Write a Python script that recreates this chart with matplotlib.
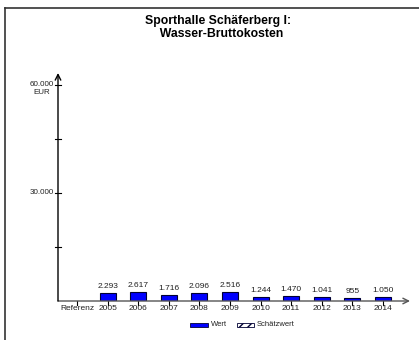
import matplotlib
matplotlib.use("Agg")
import matplotlib.pyplot as plt
from matplotlib.patches import Rectangle
from matplotlib.lines import Line2D

# --- data ---
categories = ['Referenz', '2005', '2006', '2007', '2008', '2009',
              '2010', '2011', '2012', '2013', '2014']
values = [None, 2293, 2617, 1716, 2096, 2516, 1244, 1470, 1041, 955, 1050]
value_labels = ['', '2.293', '2.617', '1.716', '2.096', '2.516',
                '1.244', '1.470', '1.041', '955', '1.050']
y_ticks = [0, 15000, 30000, 45000, 60000]
y_tick_labels = {30000: '30.000', 60000: '60.000'}
title = 'Sporthalle Schäferberg I:\n  Wasser-Bruttokosten'

W, H = 419, 340
fig = plt.figure(figsize=(W / 100, H / 100), dpi=100)
plt.rcParams['font.family'] = ['Liberation Sans', 'DejaVu Sans']

# outer frame (only top and left edges visible)
fig.add_artist(Line2D([5 / W, 5 / W], [0, 1 - 8 / H], color='#333333', lw=1.2))
fig.add_artist(Line2D([5 / W, 1], [1 - 8 / H, 1 - 8 / H], color='#333333', lw=1.2))

# axes geometry in pixels
x0, x1 = 58, 410
y0, ytop = 301, 73
ax = fig.add_axes([x0 / W, (H - y0) / H, (x1 - x0) / W, (y0 - ytop) / H])
px_per_unit = 30.6
ax.set_xlim((x0 - 77) / px_per_unit, (x1 - 77) / px_per_unit)
ax.set_ylim(0, (y0 - ytop) / 108 * 30000)
ax.patch.set_alpha(0)
for s in ax.spines.values():
    s.set_visible(False)
ax.set_xticks([])
ax.set_yticks([])

# axis arrows
ax.annotate('', xy=(1.0, 0), xytext=(0, 0), xycoords='axes fraction',
            arrowprops=dict(arrowstyle='->', color='#555555', lw=1.0,
                            mutation_scale=10, shrinkA=0, shrinkB=0))
ax.annotate('', xy=(0, 1.0), xytext=(0, 0), xycoords='axes fraction',
            arrowprops=dict(arrowstyle='->', color='black', lw=1.0,
                            mutation_scale=10, shrinkA=0, shrinkB=0))

# y ticks crossing the axis
xl = ax.get_xlim()
dx = 2.5 / px_per_unit
for t in y_ticks[1:]:
    ax.plot([xl[0] - dx, xl[0] + dx], [t, t], color='black', lw=0.8, clip_on=False)
    if t in y_tick_labels:
        ax.text(xl[0] - 4 / px_per_unit, t, y_tick_labels[t], ha='right', va='center',
                fontsize=5.8, color='#222222')
ax.text(xl[0] - 16 / px_per_unit, 60000 - 8 * 30000 / 108, 'EUR', ha='center', va='center',
        fontsize=5.8, color='#222222')

# bars and labels
bar_x = [i for i, v in enumerate(values) if v is not None]
bar_v = [v for v in values if v is not None]
ax.bar(bar_x, bar_v, width=0.52, color='#0000ff', edgecolor='#000033', lw=0.8)
for i, v in enumerate(values):
    if v is not None:
        ax.text(i, v + 3 * 30000 / 108, value_labels[i], ha='center', va='bottom',
                fontsize=6, color='#222222')

# x ticks and labels
tick_len = 4 * 30000 / 108
for i, c in enumerate(categories):
    ax.plot([i, i], [0, -tick_len], color='black', lw=0.8, clip_on=False)
    ax.text(i, -8 * 30000 / 108, c, ha='center', va='center', fontsize=6, color='#222222')

# title
fig.text(218 / W, 1 - 27.5 / H, title, ha='center', va='center', fontsize=8.8,
         fontweight='bold', linespacing=1.1)

# legend
fig.add_artist(Rectangle((190 / W, 1 - 327 / H), 18 / W, 4 / H, facecolor='#0000ff',
                         edgecolor='#000033', lw=0.6))
fig.text(211 / W, 1 - 325 / H, 'Wert', ha='left', va='center', fontsize=5.5, color='#222222')
fig.add_artist(Rectangle((237 / W, 1 - 327 / H), 17 / W, 4 / H, facecolor='white',
                         edgecolor='#000033', lw=0.6, hatch='////'))
fig.text(257 / W, 1 - 325 / H, 'Schätzwert', ha='left', va='center', fontsize=5.5,
         color='#222222')

fig.savefig('out.png', dpi=100)
